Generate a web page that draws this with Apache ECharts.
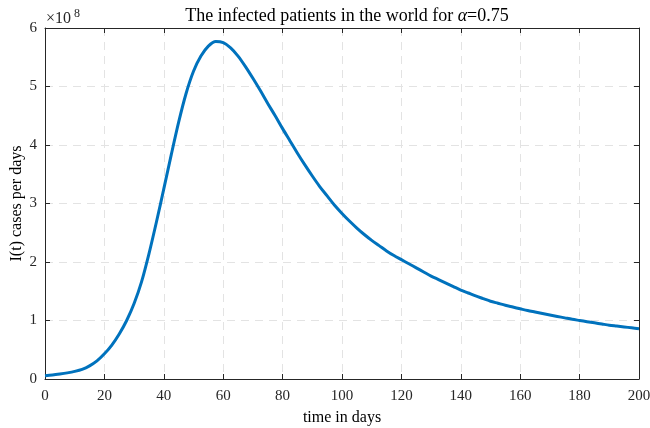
<!DOCTYPE html>
<html><head><meta charset="utf-8">
<script src="https://cdn.jsdelivr.net/npm/echarts@6/dist/echarts.min.js"></script>
<style>html,body{margin:0;padding:0;background:#fff}#c{width:650px;height:428px}</style>
</head><body><div id="c"></div>
<script>
var days = [0,2.5,5,7.5,10,12.5,15,17.5,20,22.5,25,27.5,30,32.5,35,37.5,40,42.5,45,47.5,50,52.5,55,57.5,60,62.5,65,67.5,70,72.5,75,77.5,80,82.5,85,87.5,90,92.5,95,97.5,100,102.5,105,107.5,110,112.5,115,117.5,120,122.5,125,127.5,130,132.5,135,137.5,140,142.5,145,147.5,150,152.5,155,157.5,160,162.5,165,167.5,170,172.5,175,177.5,180,182.5,185,187.5,190,192.5,195,197.5,200];
var infected = [0.056,0.068,0.085,0.105,0.13,0.165,0.225,0.31,0.43,0.58,0.77,1.0,1.29,1.66,2.14,2.68,3.25,3.83,4.39,4.88,5.26,5.52,5.69,5.77,5.75,5.66,5.52,5.34,5.14,4.93,4.71,4.50,4.28,4.07,3.86,3.66,3.47,3.29,3.13,2.97,2.83,2.70,2.58,2.47,2.37,2.28,2.19,2.11,2.04,1.97,1.90,1.83,1.76,1.70,1.64,1.58,1.52,1.47,1.42,1.375,1.33,1.295,1.26,1.23,1.2,1.17,1.145,1.12,1.095,1.07,1.045,1.02,1.0,0.98,0.96,0.94,0.92,0.905,0.89,0.875,0.86];
var xTicks = [0,20,40,60,80,100,120,140,160,180,200];
var yTicks = [0,1,2,3,4,5,6];
var titleText = 'The infected patients in the world for ';
var xName = 'time in days';
var yName = 'I(t) cases per days';

var font = '"Liberation Serif","Times New Roman",serif';
var chart = echarts.init(document.getElementById('c'), null, {renderer:'canvas'});
var gridStyle = {show:true, lineStyle:{color:'#e3e3e3', type:[8,6], width:1}};
var tick = {show:true, inside:true, length:5, lineStyle:{color:'#262626', width:1}};
var axisLine = {show:true, onZero:false, lineStyle:{color:'#262626', width:1}};
chart.setOption({
  animation:false,
  title:{
    text: titleText + '{a|α}=0.75',
    left: 342, textAlign:'center', top: 2,
    textStyle:{fontFamily:font, fontSize:18, fontWeight:'normal', color:'#000',
      rich:{a:{fontFamily:font, fontStyle:'italic', fontSize:18, color:'#000'}}}
  },
  graphic:[{
    type:'text', left:46, top:11,
    style:{text:'×10', fontFamily:font, fontSize:16, fill:'#262626'}
  },{
    type:'text', left:74, top:8,
    style:{text:'8', fontFamily:font, fontSize:12, fill:'#262626'}
  },{
    type:'text', x:17, y:203.5, rotation:Math.PI/2,
    style:{text:yName, fontFamily:font, fontSize:16, fill:'#000', align:'center', verticalAlign:'middle'}
  }],
  grid:{left:45, right:11, top:28, bottom:49, containLabel:false, outerBoundsMode:'none'},
  xAxis:[{
    type:'value', min:0, max:200, interval:20, position:'bottom',
    name:xName, nameLocation:'middle', nameGap:31,
    nameTextStyle:{fontFamily:font, fontSize:16, color:'#000'},
    axisLine:axisLine, axisTick:tick, splitLine:gridStyle,
    axisLabel:{fontFamily:font, fontSize:15, color:'#262626', margin:10,
      formatter:function(v){return xTicks.indexOf(v)>=0? String(v):'';}}
  },{
    type:'value', min:0, max:200, interval:20, position:'top',
    axisLine:axisLine, axisTick:tick, splitLine:{show:false}, axisLabel:{show:false}
  }],
  yAxis:[{
    type:'value', min:0, max:6, interval:1, position:'left',
    axisLine:axisLine, axisTick:tick, splitLine:gridStyle,
    axisLabel:{fontFamily:font, fontSize:15, color:'#262626', margin:8,
      formatter:function(v){return yTicks.indexOf(v)>=0? String(v):'';}}
  },{
    type:'value', min:0, max:6, interval:1, position:'right',
    axisLine:axisLine, axisTick:tick, splitLine:{show:false}, axisLabel:{show:false}
  }],
  series:[{
    type:'line', xAxisIndex:0, yAxisIndex:0,
    data: days.map(function(d,i){return [d, infected[i]];}),
    smooth:0.3, showSymbol:false,
    lineStyle:{color:'#0072BD', width:3}, clip:true
  }]
});
</script></body></html>
